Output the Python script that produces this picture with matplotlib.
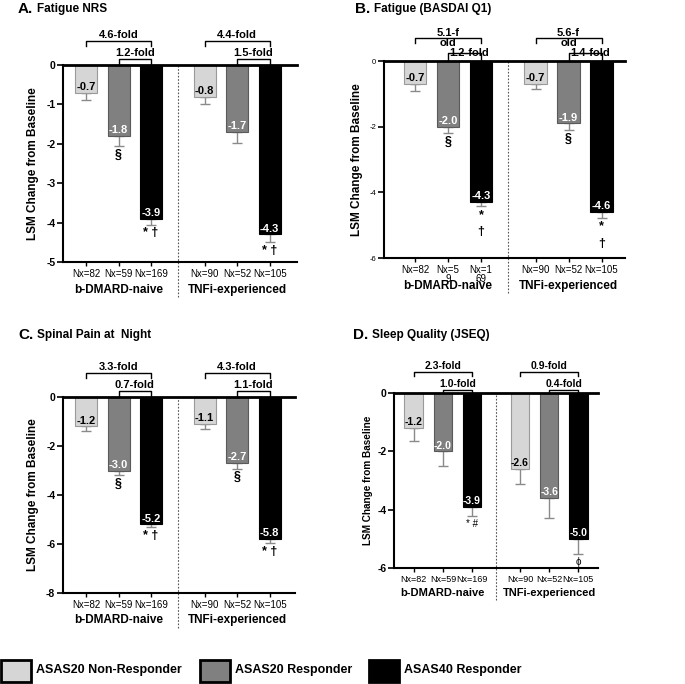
import matplotlib
matplotlib.use("Agg")
import matplotlib.pyplot as plt
from matplotlib.patches import Rectangle
from matplotlib.transforms import blended_transform_factory

plt.rcParams['font.family'] = ['Liberation Sans', 'DejaVu Sans']

W, H = 685, 684

groups = ["b-DMARD-naive", "TNFi-experienced"]
responders = ["ASAS20 Non-Responder", "ASAS20 Responder", "ASAS40 Responder"]
n_labels = ["Nx=82", "Nx=59", "Nx=169", "Nx=90", "Nx=52", "Nx=105"]
n_labels_b = ["Nx=82", "Nx=5\n9", "Nx=1\n69", "Nx=90", "Nx=52", "Nx=105"]

# LSM change from baseline and lower error (SE)
fatigue_nrs = [-0.7, -1.8, -3.9, -0.8, -1.7, -4.3]
fatigue_nrs_err = [0.2, 0.25, 0.15, 0.2, 0.27, 0.2]
basdai_q1 = [-0.7, -2.0, -4.3, -0.7, -1.9, -4.6]
basdai_q1_err = [0.2, 0.2, 0.12, 0.15, 0.2, 0.17]
night_pain = [-1.2, -3.0, -5.2, -1.1, -2.7, -5.8]
night_pain_err = [0.2, 0.2, 0.1, 0.2, 0.22, 0.15]
jseq = [-1.2, -2.0, -3.9, -2.6, -3.6, -5.0]
jseq_err = [0.44, 0.5, 0.32, 0.53, 0.67, 0.53]

folds_a = ["4.6-fold", "1.2-fold", "4.4-fold", "1.5-fold"]
folds_b = ["5.1-f\nold", "1.2-fold", "5.6-f\nold", "1.4-fold"]
folds_c = ["3.3-fold", "0.7-fold", "4.3-fold", "1.1-fold"]
folds_d = ["2.3-fold", "1.0-fold", "0.9-fold", "0.4-fold"]

sig_a = ["", "§", "* †", "", "", "* †"]
sig_b = ["", "§", "*\n†", "", "§", "*\n†"]
sig_c = ["", "§", "* †", "", "§", "* †"]
sig_d = ["", "", "* #", "", "", "ϕ"]

bar_colors = ["#d6d6d6", "#808080", "#000000"]
edge_colors = ["#9a9a9a", "#5a5a5a", "#000000"]
xpos = [0, 1, 2, 3.65, 4.65, 5.65]

fig = plt.figure(figsize=(W / 100, H / 100), dpi=100)


def draw_panel(box, vals, errs, ylim, yticks, nlabs, folds, sigs, xlim,
               bw=0.68, tick_fs=7.5, tick_bold=True, val_fs=8, lab_fs=8.5,
               outer_px=24, inner_px=6, fold_mode="above", small=False):
    l, t, r, b = box
    ax = fig.add_axes([l / W, 1 - b / H, (r - l) / W, (b - t) / H])
    ppu = (b - t) / (ylim[1] - ylim[0])

    cols = bar_colors * 2
    ax.errorbar(xpos, vals, yerr=[errs, [0] * 6], fmt='none', ecolor='#8a8a8a',
                elinewidth=1, capsize=3.5, capthick=1, zorder=1)
    ax.bar(xpos, vals, width=bw, color=cols, edgecolor=edge_colors * 2,
           linewidth=0.8, zorder=2)

    for xi, v, e, c, s in zip(xpos, vals, errs, cols, sigs):
        tc = 'black' if c == bar_colors[0] else 'white'
        ax.annotate(f"{v:.1f}", (xi, v), xytext=(0, 0.5), textcoords='offset points',
                    ha='center', va='bottom', color=tc, fontweight='bold',
                    fontsize=val_fs, zorder=3)
        if s:
            ax.annotate(s, (xi, v - e), xytext=(0, -2), textcoords='offset points',
                        ha='center', va='top', fontsize=7 if small else 9,
                        fontweight='normal' if small else 'bold', linespacing=1.6)

    # fold-change brackets
    pairs = [(0, 2, outer_px), (1, 2, inner_px), (3, 5, outer_px), (4, 5, inner_px)]
    for (i, j, hp), txt in zip(pairs, folds):
        yl = hp / ppu
        ytk = max(yl - 4.5 / ppu, 0) if hp == outer_px else 0
        ax.plot([xpos[i], xpos[i], xpos[j], xpos[j]], [ytk, yl, yl, ytk],
                color='black', lw=1, clip_on=False, zorder=4)
        xm = (xpos[i] + xpos[j]) / 2
        if fold_mode == "center":
            ax.text(xm + (0.15 if hp == inner_px else 0), yl, txt, ha='center',
                    va='center', fontsize=val_fs, fontweight='bold',
                    linespacing=0.9, clip_on=False)
        else:
            ax.annotate(txt, (xm, yl), xytext=(0, 0.5), textcoords='offset points',
                        ha='center', va='bottom', fontsize=val_fs,
                        fontweight='bold', annotation_clip=False)

    ax.set_xlim(*xlim)
    ax.set_ylim(*ylim)
    ax.set_yticks(yticks)
    ax.set_yticklabels([str(v) for v in yticks], fontsize=tick_fs,
                       fontweight='bold' if tick_bold else 'normal')
    ax.set_xticks(xpos)
    ax.set_xticklabels(nlabs, fontsize=6.5 if small else 7, linespacing=0.9)
    ax.tick_params(axis='y', direction='out', length=4, width=1.2, pad=1.5)
    ax.tick_params(axis='x', direction='out', length=3, width=1, pad=2)
    ax.spines['right'].set_visible(False)
    ax.spines['top'].set_linewidth(2)
    ax.spines['left'].set_linewidth(1.5)
    ax.spines['bottom'].set_linewidth(1.5)
    ax.set_ylabel("LSM Change from Baseline", fontsize=lab_fs - (0.8 if small else 0),
                  fontweight='bold', labelpad=5 if not small else 3)

    ax.axvline((xpos[2] + xpos[3]) / 2, ymin=-0.18, ymax=1, ls=(0, (1.5, 1.5)),
               color='#555555', lw=0.8, clip_on=False, zorder=0)
    tr = blended_transform_factory(ax.transData, ax.transAxes)
    for gx, g in zip([xpos[1], xpos[4]], groups):
        ax.text(gx, -0.14, g, transform=tr, ha='center', va='center',
                fontsize=lab_fs, fontweight='bold')
    return ax


def panel_title(x, y, letter, title):
    fig.text(x / W, 1 - y / H, letter, fontsize=11, fontweight='bold', va='center')
    fig.text((x + 19) / W, 1 - y / H, title, fontsize=8.5, fontweight='bold', va='center')


draw_panel((63, 65, 297, 262), fatigue_nrs, fatigue_nrs_err,
           (-5, 0), [0, -1, -2, -3, -4, -5], n_labels, folds_a, sig_a,
           (-0.71, 6.49))
panel_title(18, 9, "A.", "Fatigue NRS")

draw_panel((384, 61, 625, 258), basdai_q1, basdai_q1_err,
           (-6, 0), [0, -2, -4, -6], n_labels_b, folds_b, sig_b,
           (-0.94, 6.36), tick_fs=5.5, tick_bold=False, outer_px=23, inner_px=8.5,
           fold_mode="center")
panel_title(355, 9, "B.", "Fatigue (BASDAI Q1)")

draw_panel((63, 397, 295, 593), night_pain, night_pain_err,
           (-8, 0), [0, -2, -4, -6, -8], n_labels, folds_c, sig_c,
           (-0.71, 6.43))
panel_title(18, 335, "C.", "Spinal Pain at  Night")

draw_panel((394, 393, 598, 568), jseq, jseq_err,
           (-6, 0), [0, -2, -4, -6], n_labels, folds_d, sig_d,
           (-0.68, 6.33), bw=0.64, val_fs=7.5, lab_fs=8, outer_px=21, inner_px=3,
           small=True)
panel_title(353, 335, "D.", "Sleep Quality (JSEQ)")

# legend
leg_x = [1, 200, 369]
for lx, c, name in zip(leg_x, bar_colors, responders):
    fig.add_artist(Rectangle((lx / W, 1 - 682 / H), 30 / W, 22 / H,
                             transform=fig.transFigure, facecolor=c,
                             edgecolor='black', lw=2))
    fig.text((lx + 35) / W, 1 - 670 / H, name, fontsize=9, fontweight='bold',
             va='center')

fig.savefig("out.png", dpi=100)
